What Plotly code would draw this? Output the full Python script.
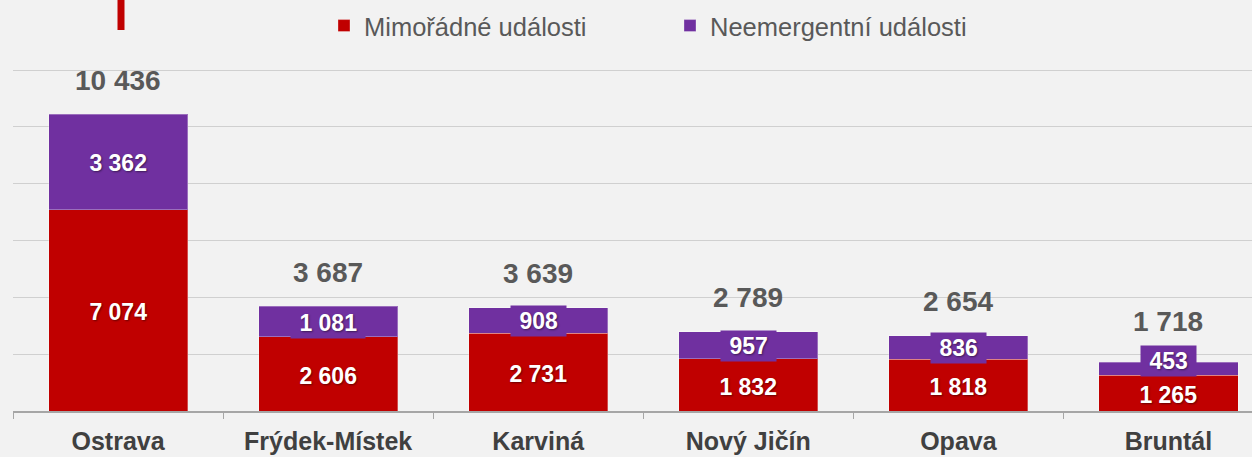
import plotly.graph_objects as go

categories = ["Ostrava", "Frýdek-Místek", "Karviná", "Nový Jičín", "Opava", "Bruntál"]
mimoradne = [7074, 2606, 2731, 1832, 1818, 1265]
neemergentni = [3362, 1081, 908, 957, 836, 453]
series_names = ["Mimořádné události", "Neemergentní události"]

RED = "#C00000"
PURPLE = "#7030A0"
BG = "#F2F2F2"
FONT = "Liberation Sans, Arial, sans-serif"

def fmt(v):
    return f"{v:,}".replace(",", " ")

totals = [a + b for a, b in zip(mimoradne, neemergentni)]

fig = go.Figure()
fig.add_bar(x=categories, y=mimoradne, name=series_names[0],
            marker=dict(color=RED, line=dict(color="rgba(255,255,255,0.3)", width=1)))
fig.add_bar(x=categories, y=neemergentni, name=series_names[1],
            marker=dict(color=PURPLE, line=dict(color="rgba(255,255,255,0.3)", width=1)))

# label nudges (px) for the crowded last column
purple_shift = {"Bruntál": 8}
total_shift = {"Bruntál": 7}

ann = []
shadow = "1px 1px 2px rgba(0,0,0,0.45)"
for c, a, b, t in zip(categories, mimoradne, neemergentni, totals):
    ann.append(dict(x=c, y=a / 2, yshift=-2, text="\u00a0" + fmt(a) + "\u00a0", showarrow=False,
                    bgcolor=RED, borderpad=2,
                    font=dict(family=FONT, size=23, color="white", weight="bold", shadow=shadow)))
    ann.append(dict(x=c, y=a + b / 2, yshift=purple_shift.get(c, -1),
                    text="\u00a0" + fmt(b) + "\u00a0", showarrow=False,
                    bgcolor=PURPLE, borderpad=2,
                    font=dict(family=FONT, size=23, color="white", weight="bold", shadow=shadow)))
    ann.append(dict(x=c, y=t, yshift=34 + total_shift.get(c, 0), yanchor="middle",
                    text=fmt(t), showarrow=False,
                    font=dict(family=FONT, size=28, color="#595959", weight="bold")))

TOP = 60
PLOT_H = 457 - TOP - 46
YMAX = 12000 * PLOT_H / 341

fig.update_layout(
    width=1252, height=457,
    barmode="stack", bargap=0.338,
    paper_bgcolor=BG, plot_bgcolor=BG,
    margin=dict(l=13, r=0, t=TOP, b=46),
    font=dict(family=FONT, color="#595959"),
    annotations=ann,
    showlegend=True,
    legend=dict(orientation="h", x=0.251, xanchor="left",
                y=1 + (TOP - 26) / PLOT_H, yanchor="middle",
                font=dict(family=FONT, size=25.5, color="#595959"),
                entrywidth=301, entrywidthmode="pixels",
                bgcolor="rgba(0,0,0,0)", traceorder="normal"),
    shapes=[dict(type="rect", xref="paper", yref="paper",
                 x0=(117.5 - 13) / 1239, x1=(124.5 - 13) / 1239,
                 y0=1 + (TOP - 30) / PLOT_H, y1=1 + TOP / PLOT_H,
                 fillcolor=RED, line=dict(width=0), layer="above")],
    xaxis=dict(range=[-0.5, 5.5 - (1273.5 - 1252) / 210], tickson="boundaries",
               ticks="outside", ticklen=6, tickcolor="#A6A6A6",
               showline=True, linecolor="#A6A6A6", linewidth=1.5,
               showgrid=False, zeroline=False, ticklabelstandoff=7,
               tickfont=dict(family=FONT, size=25, color="#404040", weight="bold")),
    yaxis=dict(range=[0, YMAX], tick0=0, dtick=2000, showticklabels=False,
               showgrid=True, gridcolor="#D0D0D0", gridwidth=1.2,
               zeroline=False, showline=False, ticks=""),
)

fig.write_html("out.html", config={"displayModeBar": False},
               post_script="document.body.style.margin='0';document.body.style.overflow='hidden';")
